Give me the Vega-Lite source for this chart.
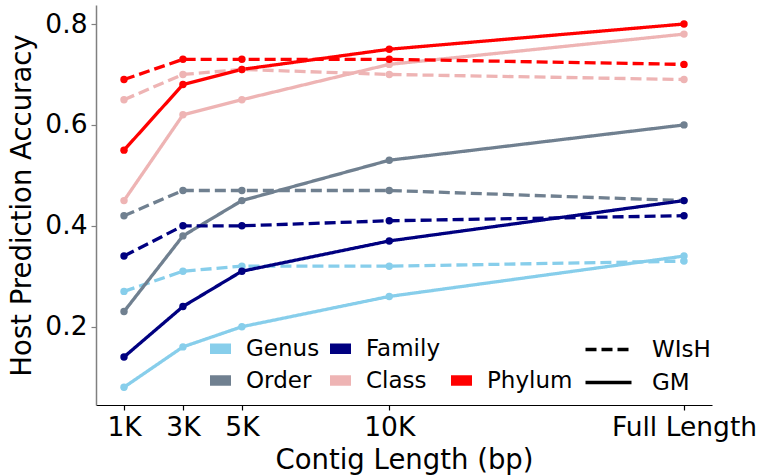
{
  "$schema": "https://vega.github.io/schema/vega-lite/v6.json",
  "width": 616,
  "height": 400,
  "autosize": "none",
  "padding": {"left": 96, "top": 5, "right": 61, "bottom": 70},
  "background": "white",
  "config": {
    "font": "DejaVu Sans",
    "view": {"stroke": null},
    "axis": {"grid": false, "labelColor": "black", "titleColor": "black", "titleFontWeight": "normal", "labelFont": "DejaVu Sans", "titleFont": "DejaVu Sans"}
  },
  "data": {
    "values": [
      {"level": "Genus", "method": "GM", "x": 1, "acc": 0.08},
      {"level": "Genus", "method": "GM", "x": 3, "acc": 0.16},
      {"level": "Genus", "method": "GM", "x": 5, "acc": 0.20},
      {"level": "Genus", "method": "GM", "x": 10, "acc": 0.26},
      {"level": "Genus", "method": "GM", "x": 20, "acc": 0.34},
      {"level": "Genus", "method": "WIsH", "x": 1, "acc": 0.27},
      {"level": "Genus", "method": "WIsH", "x": 3, "acc": 0.31},
      {"level": "Genus", "method": "WIsH", "x": 5, "acc": 0.32},
      {"level": "Genus", "method": "WIsH", "x": 10, "acc": 0.32},
      {"level": "Genus", "method": "WIsH", "x": 20, "acc": 0.33},
      {"level": "Order", "method": "GM", "x": 1, "acc": 0.23},
      {"level": "Order", "method": "GM", "x": 3, "acc": 0.38},
      {"level": "Order", "method": "GM", "x": 5, "acc": 0.45},
      {"level": "Order", "method": "GM", "x": 10, "acc": 0.53},
      {"level": "Order", "method": "GM", "x": 20, "acc": 0.60},
      {"level": "Order", "method": "WIsH", "x": 1, "acc": 0.42},
      {"level": "Order", "method": "WIsH", "x": 3, "acc": 0.47},
      {"level": "Order", "method": "WIsH", "x": 5, "acc": 0.47},
      {"level": "Order", "method": "WIsH", "x": 10, "acc": 0.47},
      {"level": "Order", "method": "WIsH", "x": 20, "acc": 0.45},
      {"level": "Family", "method": "GM", "x": 1, "acc": 0.14},
      {"level": "Family", "method": "GM", "x": 3, "acc": 0.24},
      {"level": "Family", "method": "GM", "x": 5, "acc": 0.31},
      {"level": "Family", "method": "GM", "x": 10, "acc": 0.37},
      {"level": "Family", "method": "GM", "x": 20, "acc": 0.45},
      {"level": "Family", "method": "WIsH", "x": 1, "acc": 0.34},
      {"level": "Family", "method": "WIsH", "x": 3, "acc": 0.40},
      {"level": "Family", "method": "WIsH", "x": 5, "acc": 0.40},
      {"level": "Family", "method": "WIsH", "x": 10, "acc": 0.41},
      {"level": "Family", "method": "WIsH", "x": 20, "acc": 0.42},
      {"level": "Class", "method": "GM", "x": 1, "acc": 0.45},
      {"level": "Class", "method": "GM", "x": 3, "acc": 0.62},
      {"level": "Class", "method": "GM", "x": 5, "acc": 0.65},
      {"level": "Class", "method": "GM", "x": 10, "acc": 0.72},
      {"level": "Class", "method": "GM", "x": 20, "acc": 0.78},
      {"level": "Class", "method": "WIsH", "x": 1, "acc": 0.65},
      {"level": "Class", "method": "WIsH", "x": 3, "acc": 0.70},
      {"level": "Class", "method": "WIsH", "x": 5, "acc": 0.71},
      {"level": "Class", "method": "WIsH", "x": 10, "acc": 0.70},
      {"level": "Class", "method": "WIsH", "x": 20, "acc": 0.69},
      {"level": "Phylum", "method": "GM", "x": 1, "acc": 0.55},
      {"level": "Phylum", "method": "GM", "x": 3, "acc": 0.68},
      {"level": "Phylum", "method": "GM", "x": 5, "acc": 0.71},
      {"level": "Phylum", "method": "GM", "x": 10, "acc": 0.75},
      {"level": "Phylum", "method": "GM", "x": 20, "acc": 0.80},
      {"level": "Phylum", "method": "WIsH", "x": 1, "acc": 0.69},
      {"level": "Phylum", "method": "WIsH", "x": 3, "acc": 0.73},
      {"level": "Phylum", "method": "WIsH", "x": 5, "acc": 0.73},
      {"level": "Phylum", "method": "WIsH", "x": 10, "acc": 0.73},
      {"level": "Phylum", "method": "WIsH", "x": 20, "acc": 0.72}
    ]
  },
  "encoding": {
    "x": {
      "field": "x", "type": "quantitative",
      "scale": {"domain": [0.05, 20.95], "nice": false, "zero": false},
      "axis": {
        "title": "Contig Length (bp)",
        "values": [1, 3, 5, 10, 20],
        "labelExpr": "datum.value == 20 ? 'Full Length' : datum.value + 'K'",
        "labelFontSize": 26.5, "titleFontSize": 27.5,
        "domainColor": "black", "tickColor": "black", "domainWidth": 1.2, "tickWidth": 1.2,
        "tickSize": 5, "labelPadding": 4, "titlePadding": 6,
        "labelFlush": false, "labelOverlap": false,
        "encode": {"labels": {"update": {"dx": {"signal": "datum.value == 20 ? 13 : 0"}}}}
      }
    },
    "y": {
      "field": "acc", "type": "quantitative",
      "scale": {"domain": [0.0448, 0.8377], "nice": false, "zero": false},
      "axis": {
        "title": "Host Prediction Accuracy",
        "values": [0.2, 0.4, 0.6, 0.8], "format": ".1f",
        "labelFontSize": 26.5, "titleFontSize": 27.5,
        "domainColor": "#808080", "tickColor": "#808080", "domainWidth": 1.5, "tickWidth": 1.2,
        "tickSize": 5, "labelPadding": 4, "titlePadding": 8
      }
    },
    "color": {
      "field": "level", "type": "nominal",
      "scale": {
        "domain": ["Genus", "Order", "Family", "Class", " ", "Phylum"],
        "range": ["#87CEEB", "#708090", "#000080", "#EEB4B4", "transparent", "#FF0000"]
      },
      "legend": {
        "title": null, "orient": "none", "legendX": 113, "legendY": 332,
        "columns": 3, "columnPadding": 9, "rowPadding": 8,
        "symbolType": "M-1,-0.5H1V0.5H-1Z", "symbolSize": 441,
        "symbolStrokeWidth": 0, "symbolOpacity": 1,
        "labelFontSize": 23, "labelOffset": 14, "labelColor": "black", "padding": 0,
        "encode": {"symbols": {"update": {"fill": {"scale": "color", "field": "value"}, "strokeWidth": {"value": 0}, "opacity": {"value": 1}}}}
      }
    }
  },
  "layer": [
    {
      "mark": {"type": "line", "strokeWidth": 3.3},
      "encoding": {
        "detail": {"field": "method"},
        "strokeDash": {
          "field": "method", "type": "nominal",
          "scale": {"domain": ["WIsH", "GM"], "range": [[11, 5], [1, 0]]},
          "legend": {
            "title": null, "orient": "none", "legendX": 499, "legendY": 331,
            "symbolType": "M-2,0H2", "symbolSize": 529, "symbolStrokeWidth": 3.5,
            "symbolStrokeColor": "black", "rowPadding": 7,
            "labelFontSize": 23, "labelOffset": 30, "labelColor": "black", "padding": 0
          }
        }
      }
    },
    {
      "mark": {"type": "point", "filled": true, "size": 55, "opacity": 1},
      "encoding": {}
    }
  ]
}
